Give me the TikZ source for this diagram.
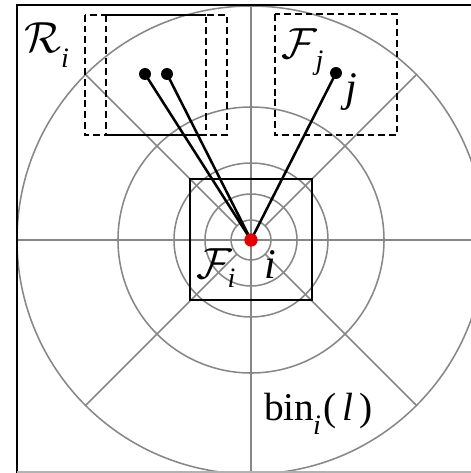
\RequirePackage{fix-cm}
\documentclass[tikz,border=0pt]{standalone}
\usepackage{amsmath}
\usepackage{fontspec}
\setmainfont{Liberation Serif}
\usetikzlibrary{calc}
\newcommand\mysubs[3]{\kern#1\raisebox{-#2}{\fontsize{20}{22}\selectfont\textit{#3}}}
\newcommand\calfont{\fontsize{31}{37}\selectfont}
\begin{document}
\begin{tikzpicture}[x=0.25mm,y=-0.25mm,
  gridline/.style={draw=black!47,line width=1.1pt},
  framel/.style={draw=black,line width=2pt},
  dbox/.style={draw=black,line width=1.5pt,dash pattern=on 4.8pt off 2.8pt},
  sbox/.style={draw=black,line width=1.6pt},
  link/.style={draw=black,line width=1.8pt},
  bdot/.style={circle,fill=black,inner sep=0pt,minimum size=8.5pt},
  rdot/.style={circle,fill=red!90!black,inner sep=0pt,minimum size=9.5pt},
  lab/.style={font=\fontsize{30}{36}\selectfont,inner sep=0pt,anchor=base west}]
\useasboundingbox (0,0) rectangle (471,473);
\begin{scope}
\clip (0,0) rectangle (471,473);
% log-polar grid
\coordinate (c) at (251,240);
\foreach \r in {20,46,77,133,234} {\draw[gridline] (c) circle[radius=\r];}
\draw[gridline] (17,240) -- (471,240);
\draw[gridline] (251,5) -- (251,473);
\foreach \a in {45,135,225,315} {\draw[gridline] ($(c)+(\a:20)$) -- ($(c)+(\a:234)$);}
\end{scope}
% frame
\draw[framel] (17,473) -- (17,5) -- (471,5);
\draw[draw=black!30,line width=0.8pt] (17,472) -- (471,472);
% boxes
\draw[sbox] (190,179) rectangle (312,300);
\draw[dbox] (85,15) rectangle (206,135);
\draw[dbox] (106,15) rectangle (227,135);
\draw[sbox] (106,15) -- (206,15);
\draw[sbox] (106,135) -- (206,135);
\draw[dbox] (275,14) rectangle (397,135);
% points and links
\coordinate (p1) at (145,74);
\coordinate (p2) at (167,74);
\coordinate (pj) at (336,73);
\draw[link] (p1) -- (c);
\draw[link] (p2) -- (c);
\draw[link] (pj) -- (c);
\node[bdot] (d1) at (p1) {};
\node[bdot] (d2) at (p2) {};
\node[bdot] (dj) at (pj) {};
\node[rdot] (di) at (c) {};
% labels
\node[lab] (Ri) at (24,52) {{\calfont$\mathcal{R}$}\mysubs{0pt}{11pt}{i}};
\node[lab] (Fj) at (281,58) {{\calfont$\mathcal{F}$}\mysubs{-1pt}{8pt}{j}};
\node[lab] (jl) at (345,101) {\textit{j}};
\node[lab] (Fi) at (196,278) {{\calfont$\mathcal{F}$}\mysubs{-3pt}{7pt}{i}};
\node[lab] (il) at (264,278) {\textit{i}};
\node[lab,font=\fontsize{28}{34}\selectfont] (bin) at (264,420)
  {bin\mysubs{-1pt}{10.5pt}{i}\kern2pt(\kern4pt\textit{l}\kern4pt)};
\end{tikzpicture}
\end{document}
